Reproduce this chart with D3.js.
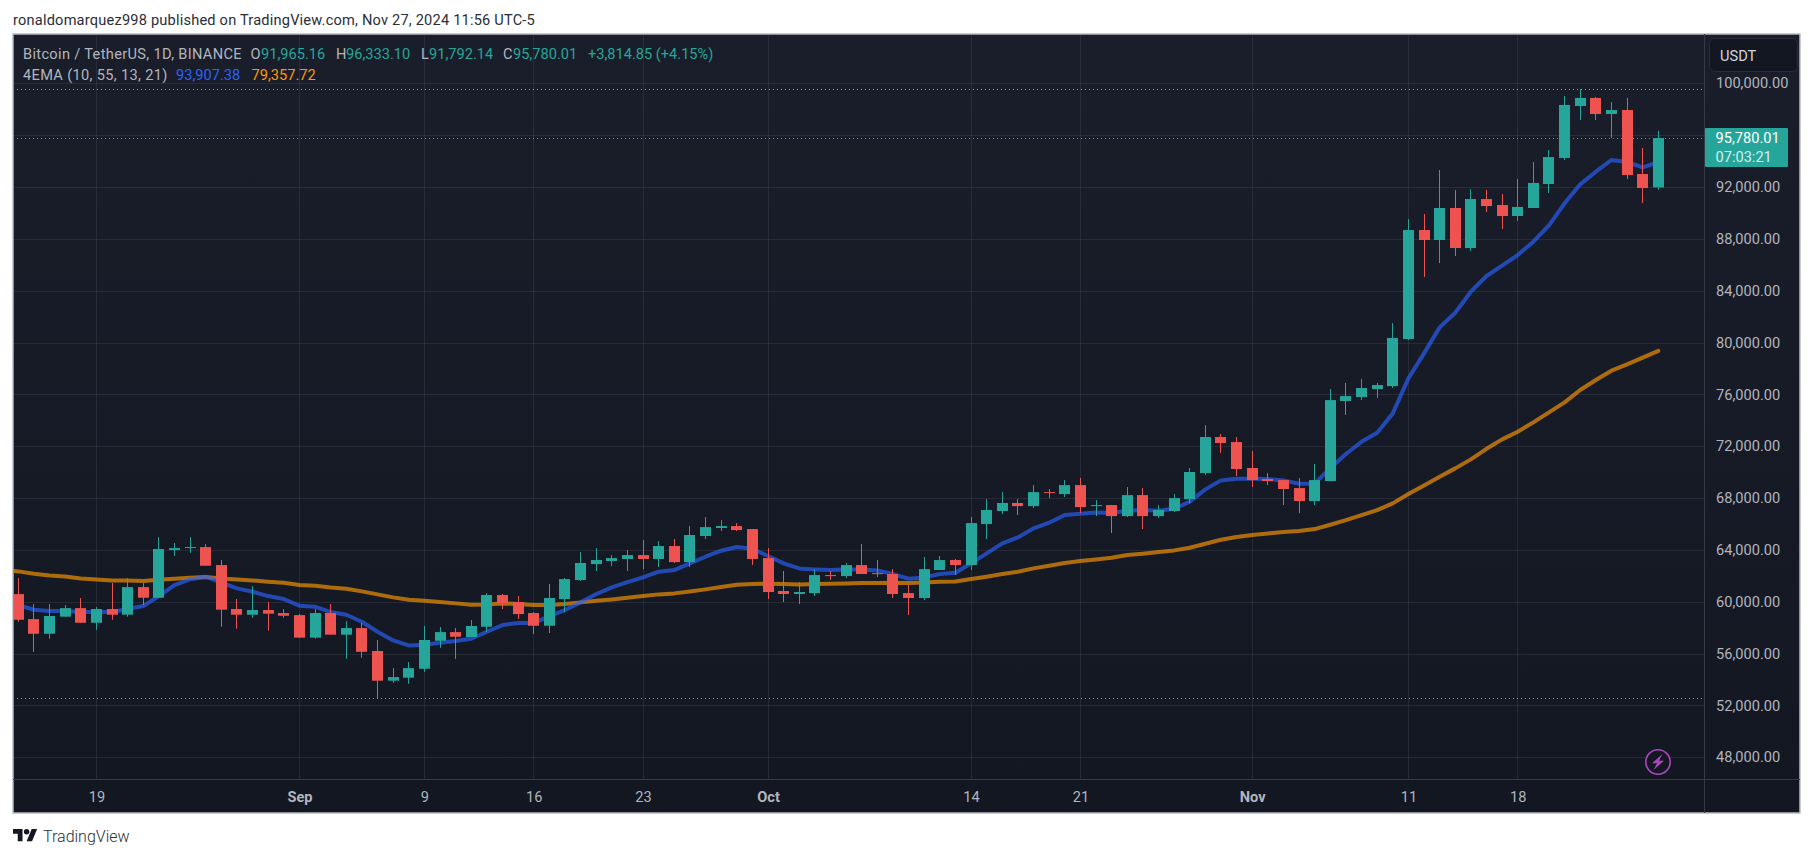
<!DOCTYPE html>
<html>
<head>
<meta charset="utf-8">
<script src="https://d3js.org/d3.v7.min.js"></script>
<style>
  html, body { margin: 0; padding: 0; background: #fff; }
  svg { display: block; }
  text { font-family: Roboto, sans-serif; }
  .domain { display: none; }
</style>
</head>
<body>
<div id="chart"></div>
<script>
  // Daily candles, 14 Aug - 27 Nov 2024
  const firstDay = '2024-08-14';
  const opens = [
    60590,58660,57530,58850,59510,58380,59440,59000,61130,60310,
    63990,64140,64220,62830,59440,59000,59360,59130,58970,57230,
    59130,57460,57970,56200,53910,54140,54830,56990,57660,57280,
    58070,60520,59980,59130,58150,60210,61680,62910,63140,63300,
    63600,63300,64300,63060,65070,65690,65840,65610,63370,60830,
    60600,60670,62060,61980,62830,62210,62140,60670,60290,62450,
    63220,62830,66000,67000,67620,67380,68460,68310,69000,67380,
    67460,66610,68230,66610,67000,67920,69930,72710,72320,70320,
    69470,69390,68770,67770,69310,75490,75790,76410,76640,80270,
    88680,87910,90380,87290,91070,90610,89760,90380,92230,94240,
    98250,98870,97630,97940,93000,91965.16
  ];
  const closes = [
    58610,57530,58900,59510,58380,59440,59000,61130,60310,64070,
    64140,64220,62780,59390,59000,59360,59080,58920,57230,59130,
    57460,57970,56140,53910,54190,54880,57050,57660,57300,58130,
    60520,59900,59050,58150,60290,61750,62990,63220,63370,63600,
    63300,64300,63060,65150,65760,65840,65530,63300,60750,60600,
    60750,62060,61980,62830,62140,62140,60600,60290,62520,63220,
    62830,66070,67080,67620,67380,68460,68390,69000,67310,67460,
    66610,68230,66610,67080,68000,70010,72710,72250,70240,69390,
    69310,68700,67770,69390,75560,75870,76490,76720,80350,88680,
    87910,90380,87290,91070,90530,89760,90460,92310,94310,98330,
    98870,97630,97940,92920,91920,95780.01
  ];
  const highs = [
    61830,59820,59820,59750,60290,59590,61440,61830,61440,64990,
    64530,64990,64450,63220,60210,61210,59980,59440,59050,59440,
    59820,58510,58360,57050,54880,55350,58130,58050,57970,58590,
    60670,60600,60440,59210,61370,61830,63840,64140,63600,63990,
    64760,64680,64840,65840,66540,66300,66070,65610,64140,62370,
    61520,62520,62370,62990,64450,63220,62520,61290,63450,63530,
    63300,66540,67920,68460,67920,69000,68700,69390,69550,67850,
    67460,68850,68770,67460,68310,70320,73630,72940,72710,71630,
    69930,69390,69550,70630,76410,76880,77180,76880,81500,89530,
    89920,93310,91770,91840,91770,91460,92620,93930,94850,99020,
    99560,98940,98560,98870,95010,96333.10
  ];
  const lows = [
    58460,56140,57150,58850,58380,57840,58610,58850,59750,60310,
    63550,63780,62780,58070,57920,58770,57770,58770,57230,57150,
    57460,55600,55680,52550,53750,53680,54600,56450,55600,57280,
    57660,59440,58670,57510,57590,59210,61600,62370,62760,62370,
    62520,62680,62990,62680,64840,65460,65460,62830,60210,59980,
    59820,60440,61680,61830,62140,61910,60290,58970,60130,62450,
    62060,62450,64840,66770,66690,67230,68000,68080,66840,66610,
    65300,66540,65610,66460,66920,67620,69780,71470,69700,68850,
    69000,67460,66840,67460,69310,74410,75560,75720,76490,80190,
    85050,86130,86670,87060,90070,88760,89380,90380,91540,94080,
    97170,97170,95780,92620,90760,91792.14
  ];
  // the two EMA lines start one day earlier, the line comes in from the left edge
  const ema10 = [
    59900,59745,59385,59282,59282,59205,59205,59205,59437,59668,60440,
    61288,61726,61931,61468,61031,60774,60440,60208,59694,59617,
    59205,58999,58459,57688,57019,56633,56685,56839,56968,57148,
    57688,58203,58357,58357,58897,59360,59952,60595,61109,61521,
    61881,62318,62447,62961,63475,63938,64221,64093,63527,62961,
    62575,62498,62447,62498,62498,62421,62138,61777,61880,62137,
    62240,62960,63732,64503,64966,65661,66098,66690,66793,66895,
    66870,67024,67075,67024,67178,67718,68670,69364,69493,69493,
    69467,69364,69107,69133,70300,71396,72348,73043,74534,77235,
    79164,81170,82302,83922,85131,85928,86751,87780,89040,90738,
    92204,93181,94082,93927,93516,93907.38
  ];
  const ema55 = [
    62471,62343,62163,62034,61957,61803,61726,61648,61648,61597,61700,
    61777,61854,61906,61803,61726,61648,61546,61468,61288,61237,
    61108,61006,60800,60568,60337,60157,60080,59977,59875,59772,
    59798,59875,59823,59746,59746,59823,59952,60080,60183,60312,
    60440,60569,60646,60800,60955,61135,61315,61366,61392,61366,
    61341,61366,61392,61418,61444,61444,61469,61443,61494,61546,
    61571,61751,61931,62137,62317,62575,62780,62986,63140,63269,
    63397,63603,63706,63835,63963,64169,64478,64786,64992,65147,
    65275,65378,65455,65609,65944,66304,66690,67076,67590,68310,
    68979,69648,70290,70985,71800,72530,73120,73841,74612,75384,
    76335,77107,77827,78316,78830,79357.72
  ];
  const priceTicks = [48000,52000,56000,60000,64000,68000,72000,76000,80000,84000,88000,92000,100000];
  const gridPrices = [48000,52000,56000,60000,64000,68000,72000,76000,80000,84000,88000,92000,96000,100000];
  const timeTickDays = ['2024-08-19','2024-09-01','2024-09-09','2024-09-16','2024-09-23','2024-10-01','2024-10-14','2024-10-21','2024-11-01','2024-11-11','2024-11-18'];
  const timeTickLabels = ['19','Sep','9','16','23','Oct','14','21','Nov','11','18'];
  const highestPrice = 99540, lowestPrice = 52550, lastPrice = 95780.01;

  const W = 1814, H = 858;
  const plotLeft = 13, plotTop = 34, plotRight = 1704, plotBottom = 779, outerRight = 1800, outerBottom = 813;
  const grey = '#b2b5be', green = '#26a69a', red = '#ef5350';
  const fmt = d3.format(',.2f');
  const parseDay = d3.utcParse('%Y-%m-%d');

  const svg = d3.select('#chart').append('svg').attr('width', W).attr('height', H);
  const defs = svg.append('defs');

  const bg = defs.append('linearGradient').attr('id', 'bg').attr('x1', 0).attr('y1', 0).attr('x2', 0).attr('y2', 1);
  bg.append('stop').attr('offset', '0%').attr('stop-color', '#1a1e2a');
  bg.append('stop').attr('offset', '100%').attr('stop-color', '#131722');
  defs.append('clipPath').attr('id', 'plot').append('rect')
    .attr('x', plotLeft + 1).attr('y', plotTop + 1).attr('width', plotRight - plotLeft - 1).attr('height', plotBottom - plotTop - 1);

  svg.append('text').attr('x', 13).attr('y', 25).attr('font-size', 14.6).attr('letter-spacing', 0.2).attr('fill', '#2a2e39')
    .text('ronaldomarquez998 published on TradingView.com, Nov 27, 2024 11:56 UTC-5');

  // frame
  svg.append('rect').attr('x', plotLeft).attr('y', plotTop).attr('width', outerRight - plotLeft).attr('height', outerBottom - plotTop)
    .attr('fill', 'url(#bg)').attr('stroke', '#b8bbc4').attr('stroke-width', 1.5);

  const days = d3.range(opens.length).map(i => d3.utcDay.offset(parseDay(firstDay), i));
  const emaDays = d3.range(ema10.length).map(i => d3.utcDay.offset(parseDay(firstDay), i - 1));
  const x = d3.scaleUtc().domain([days[0], days[days.length - 1]]).range([18.3, 1658.3]);
  const y = d3.scaleLinear().domain([48000, 100000]).range([757.3, 83.3]);

  // grid
  const grid = svg.append('g').attr('clip-path', 'url(#plot)').attr('stroke', '#f0f3fa').attr('stroke-opacity', 0.08);
  grid.selectAll('.h').data(gridPrices).enter().append('line').attr('class', 'h')
    .attr('x1', plotLeft).attr('x2', plotRight)
    .attr('y1', d => Math.round(y(d)) + 0.5).attr('y2', d => Math.round(y(d)) + 0.5);
  grid.selectAll('.v').data(timeTickDays).enter().append('line').attr('class', 'v')
    .attr('y1', plotTop).attr('y2', plotBottom)
    .attr('x1', d => Math.floor(x(parseDay(d))) + 0.5).attr('x2', d => Math.floor(x(parseDay(d))) + 0.5);

  const plot = svg.append('g').attr('clip-path', 'url(#plot)');

  // high / low dotted lines
  plot.selectAll('.hl').data([highestPrice, lowestPrice]).enter().append('line').attr('class', 'hl')
    .attr('x1', plotLeft).attr('x2', plotRight)
    .attr('y1', d => Math.round(y(d)) + 0.5).attr('y2', d => Math.round(y(d)) + 0.5)
    .attr('stroke', '#9598a1').attr('stroke-dasharray', '1 3');

  // EMAs
  const emaLine = d3.line().x((d, i) => x(emaDays[i])).y(d => y(d));
  plot.append('path').datum(ema55).attr('d', emaLine).attr('fill', 'none')
    .attr('stroke', '#ff9800').attr('stroke-opacity', 0.65).attr('stroke-width', 4).attr('stroke-linejoin', 'round').attr('stroke-linecap', 'round');
  plot.append('path').datum(ema10).attr('d', emaLine).attr('fill', 'none')
    .attr('stroke', '#2962ff').attr('stroke-opacity', 0.65).attr('stroke-width', 4).attr('stroke-linejoin', 'round').attr('stroke-linecap', 'round');

  // last price line
  plot.append('line').attr('x1', plotLeft).attr('x2', plotRight)
    .attr('y1', Math.round(y(lastPrice)) + 0.5).attr('y2', Math.round(y(lastPrice)) + 0.5)
    .attr('stroke', green).attr('stroke-dasharray', '1 3');

  // candles
  const candles = plot.selectAll('.candle').data(days).enter().append('g').attr('class', 'candle')
    .attr('fill', (d, i) => closes[i] >= opens[i] ? green : red);
  candles.append('rect')
    .attr('x', d => Math.floor(x(d))).attr('width', 1)
    .attr('y', (d, i) => y(highs[i])).attr('height', (d, i) => y(lows[i]) - y(highs[i]));
  candles.append('rect')
    .attr('x', d => Math.floor(x(d)) - 5).attr('width', 11)
    .attr('y', (d, i) => y(Math.max(opens[i], closes[i])))
    .attr('height', (d, i) => Math.max(1, y(Math.min(opens[i], closes[i])) - y(Math.max(opens[i], closes[i]))));

  // axis lines
  svg.append('rect').attr('x', plotLeft + 1).attr('y', plotBottom + 1).attr('width', outerRight - plotLeft - 2).attr('height', outerBottom - plotBottom - 2).attr('fill', '#131722');
  svg.append('line').attr('x1', plotRight + 0.5).attr('x2', plotRight + 0.5).attr('y1', plotTop).attr('y2', outerBottom).attr('stroke', '#363a45');
  svg.append('line').attr('x1', plotLeft).attr('x2', outerRight).attr('y1', plotBottom + 0.5).attr('y2', plotBottom + 0.5).attr('stroke', '#363a45');

  // price axis
  const yAxis = d3.axisRight(y).tickValues(priceTicks).tickSize(0).tickPadding(0).tickFormat(fmt);
  const yg = svg.append('g').attr('transform', `translate(${plotRight + 12},0)`).call(yAxis);
  yg.selectAll('text').attr('font-size', 14.6).attr('fill', grey);

  // time axis
  const xAxis = d3.axisBottom(x).tickValues(timeTickDays.map(parseDay)).tickSize(0).tickPadding(0)
    .tickFormat((d, i) => timeTickLabels[i]);
  const xg = svg.append('g').attr('transform', `translate(0,${plotBottom + 13})`).call(xAxis);
  xg.selectAll('text').attr('font-size', 14.6).attr('fill', grey)
    .attr('font-weight', (d, i) => isNaN(+timeTickLabels[i]) ? 700 : 400);

  // USDT button
  svg.append('rect').attr('x', 1709.5).attr('y', 38.5).attr('width', 88).attr('height', 33).attr('rx', 5)
    .attr('fill', '#131722').attr('stroke', '#2a2e39').attr('stroke-width', 1);
  svg.append('text').attr('x', 1720).attr('y', 60.5).attr('font-size', 14.6).attr('fill', '#d1d4dc').text('USDT');

  // last price tag
  svg.append('rect').attr('x', plotRight + 1).attr('y', 128).attr('width', 83).attr('height', 39).attr('rx', 1).attr('fill', green);
  svg.append('text').attr('x', 1715.5).attr('y', 143).attr('font-size', 14.6).attr('fill', '#fff').text(fmt(lastPrice));
  svg.append('text').attr('x', 1715.5).attr('y', 161.5).attr('font-size', 14.6).attr('fill', '#d4eeeb').text('07:03:21');

  // legend rows
  const row1 = [
    ['Bitcoin / TetherUS, 1D, BINANCE', 23, grey, 0.33],
    ['O', 250.5, grey, 0], ['91,965.16', 261, green, 0],
    ['H', 336, grey, 0], ['96,333.10', 346, green, 0],
    ['L', 421, grey, 0], ['91,792.14', 429, green, 0],
    ['C', 503, grey, 0], ['95,780.01', 513, green, 0],
    ['+3,814.85 (+4.15%)', 588, green, 0]
  ];
  const row2 = [
    ['4EMA (10, 55, 13, 21)', 23, grey, 0.33],
    ['93,907.38', 176, '#2962ff', 0],
    ['79,357.72', 251.5, '#ff9800', 0]
  ];
  svg.selectAll('.r1').data(row1).enter().append('text').attr('class', 'r1')
    .attr('x', d => d[1]).attr('y', 58.5).attr('font-size', 14.6).attr('letter-spacing', d => d[3]).attr('fill', d => d[2]).text(d => d[0]);
  svg.selectAll('.r2').data(row2).enter().append('text').attr('class', 'r2')
    .attr('x', d => d[1]).attr('y', 80).attr('font-size', 14.6).attr('letter-spacing', d => d[3]).attr('fill', d => d[2]).text(d => d[0]);

  // lightning badge
  const badge = svg.append('g').attr('transform', 'translate(1658,762)');
  badge.append('circle').attr('r', 12.2).attr('fill', '#131722').attr('stroke', '#ab47bc').attr('stroke-width', 1.6);
  badge.append('path').attr('d', 'M4.5 -8 L-6 1.2 L-1 1.2 L-4.5 8 L6 -1.2 L1 -1.2 Z').attr('fill', '#ab47bc');

  // footer logo
  const logo = svg.append('g').attr('transform', 'translate(13,826.3) scale(0.68)').attr('fill', '#131722');
  logo.append('path').attr('d', 'M14 22H7V11H0V4h14v18zM28 22h-8l7.5-18h8L28 22z');
  logo.append('circle').attr('cx', 20).attr('cy', 8).attr('r', 4);
  svg.append('text').attr('x', 43).attr('y', 842).attr('font-size', 16).attr('font-weight', 300).attr('fill', '#2a2e39').text('TradingView');
</script>
</body>
</html>
